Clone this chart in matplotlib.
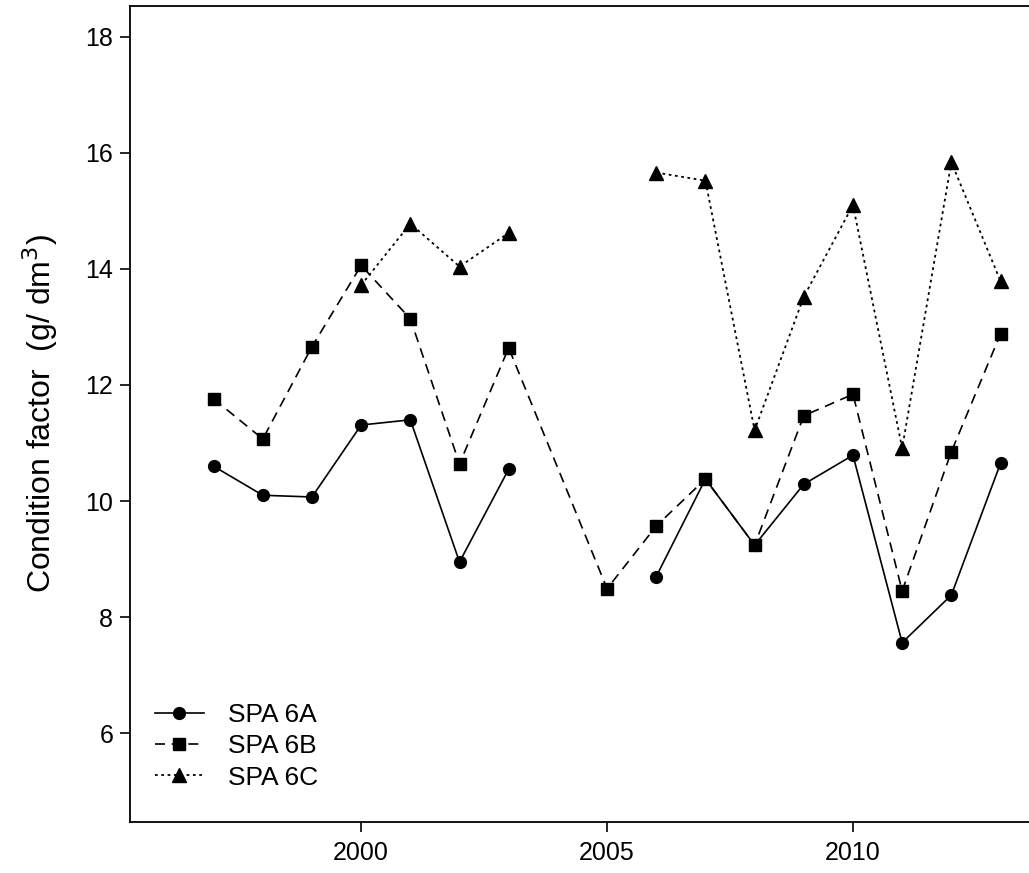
import numpy as np
import matplotlib
matplotlib.use("Agg")
import matplotlib.pyplot as plt

plt.rcParams['font.family'] = ['Liberation Sans', 'DejaVu Sans']

years = [1997, 1998, 1999, 2000, 2001, 2002, 2003, 2005, 2006, 2007, 2008, 2009, 2010, 2011, 2012, 2013]
spa_6a = [10.60, 10.10, 10.07, 11.31, 11.40, 8.95, 10.55, np.nan, 8.70, 10.38, 9.24, 10.29, 10.79, 7.56, 8.38, 10.65]
spa_6b = [11.76, 11.07, 12.66, 14.06, 13.14, 10.64, 12.64, 8.49, 9.57, 10.38, 9.24, 11.47, 11.84, 8.45, 10.85, 12.88]
spa_6c = [np.nan, np.nan, np.nan, 13.72, 14.78, 14.04, 14.62, np.nan, 15.66, 15.52, 11.22, 13.52, 15.10, 10.91, 15.84, 13.79]

labels = ["SPA 6A", "SPA 6B", "SPA 6C"]
yticks = [6, 8, 10, 12, 14, 16, 18]
xticks = [2000, 2005, 2010]

fig = plt.figure(figsize=(10.29, 8.73), dpi=100)
ax = fig.add_axes([130/1029, 1-822/873, (1032-130)/1029, (822-6)/873])

ax.plot(years, spa_6a, color='black', lw=1.2, ls='-', marker='o', ms=8.5, label=labels[0])
ax.plot(years, spa_6b, color='black', lw=1.2, ls=(0, (6, 4)), marker='s', ms=8.5, label=labels[1])
ax.plot(years, spa_6c, color='black', lw=1.3, ls=(0, (1.5, 2)), marker='^', ms=9.5, label=labels[2])

ax.set_xlim(1995.3, 2013.64)
ax.set_ylim(4.47, 18.53)
ax.set_xticks(xticks)
ax.set_yticks(yticks)
ax.tick_params(axis='both', labelsize=18, length=7, width=1.2, direction='out', pad=5)
ax.tick_params(axis='x', pad=7)
for s in ax.spines.values():
    s.set_linewidth(1.3)

ax.set_ylabel(r"Condition factor  (g/ dm$^3$)", fontsize=23, labelpad=18)

leg = ax.legend(loc='upper left', bbox_to_anchor=(0.0277, 0.146), frameon=False, borderpad=0,
                borderaxespad=0, fontsize=19, handlelength=1.85, handletextpad=0.9, labelspacing=0.28)

fig.savefig("out.png", dpi=100)
